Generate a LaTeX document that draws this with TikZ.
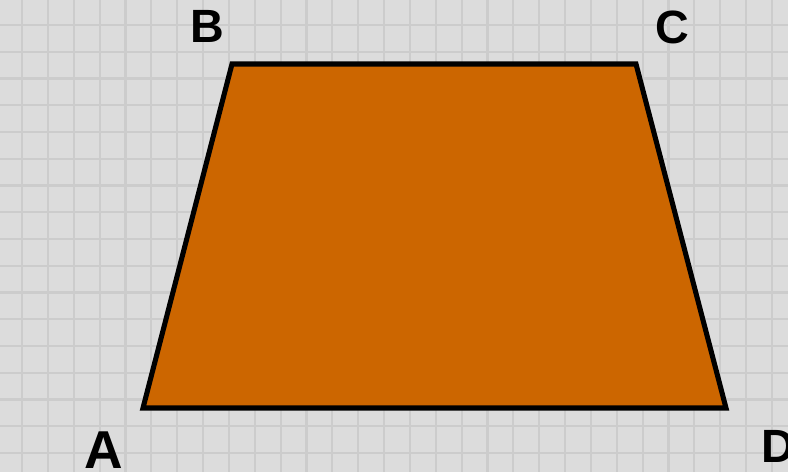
\documentclass[tikz,border=0pt]{standalone}
\usepackage{fontspec}
\setmainfont{Liberation Sans}
\definecolor{bgc}{HTML}{DCDCDC}
\definecolor{gridc}{HTML}{CCCCCC}
\definecolor{fillc}{HTML}{CC6600}
\begin{document}
\begin{tikzpicture}[x=0.75pt,y=-0.75pt,
  lbl/.style={font=\bfseries\fontsize{35}{35}\selectfont, text=black, inner sep=0pt},
  gridline/.style={gridc, line width=1.6pt}]
\fill[bgc] (0,0) rectangle (788,472);
\useasboundingbox (0,0) rectangle (788,472);
\foreach \i in {0,...,29} {
  \draw[gridline] ({22+25.86*\i},0) -- ({22+25.86*\i},472);
}
\foreach \j in {0,...,17} {
  \draw[gridline] (0,{25+26.75*\j}) -- (788,{25+26.75*\j});
}
\coordinate (A) at (143,408);
\coordinate (B) at (232,64);
\coordinate (C) at (636,64);
\coordinate (D) at (726,408);
\filldraw[fill=fillc, draw=black, line width=3.8pt, line join=miter] (A) -- (B) -- (C) -- (D) -- cycle;
\node[lbl, font=\bfseries\fontsize{40}{40}\selectfont] (la) at (104,450) {A};
\node[lbl] (lb) at (207,26) {B};
\node[lbl] (lc) at (672,27) {C};
\node[lbl] (ld) at (778,446) {D};
\end{tikzpicture}
\end{document}
